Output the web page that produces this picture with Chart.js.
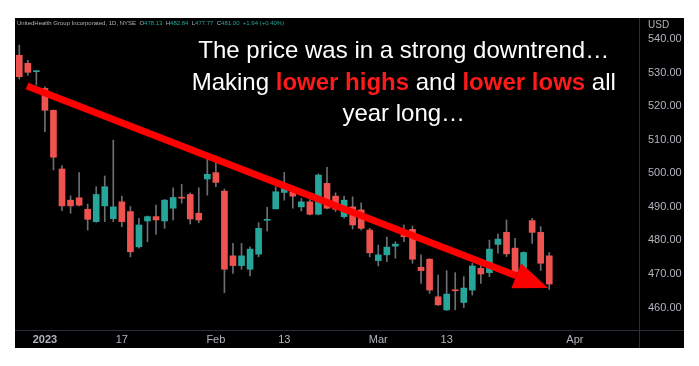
<!DOCTYPE html>
<html lang="en">

<head>
  <script src="https://cdn.jsdelivr.net/npm/chart.js@4.4.0/dist/chart.umd.min.js"></script>
  <title>UNH 1D</title>
  <style>
    body { margin: 0; background: #fff; }
    #wrap { position: absolute; left: 15px; top: 18px; width: 669px; height: 330px; background: #000; }
  </style>
</head>

<body>

  <div id="wrap"><canvas id="myChart"></canvas></div>

  <script>
    // trading days shown on the time axis (last ones are empty space on the right)
    var dates = [
      '2022-12-28', '2022-12-29', '2022-12-30',
      '2023-01-03', '2023-01-04', '2023-01-05', '2023-01-06', '2023-01-09', '2023-01-10', '2023-01-11',
      '2023-01-12', '2023-01-13', '2023-01-17', '2023-01-18', '2023-01-19', '2023-01-20', '2023-01-23',
      '2023-01-24', '2023-01-25', '2023-01-26', '2023-01-27', '2023-01-30', '2023-01-31',
      '2023-02-01', '2023-02-02', '2023-02-03', '2023-02-06', '2023-02-07', '2023-02-08', '2023-02-09',
      '2023-02-10', '2023-02-13', '2023-02-14', '2023-02-15', '2023-02-16', '2023-02-17', '2023-02-21',
      '2023-02-22', '2023-02-23', '2023-02-24', '2023-02-27', '2023-02-28',
      '2023-03-01', '2023-03-02', '2023-03-03', '2023-03-06', '2023-03-07', '2023-03-08', '2023-03-09',
      '2023-03-10', '2023-03-13', '2023-03-14', '2023-03-15', '2023-03-16', '2023-03-17', '2023-03-20',
      '2023-03-21', '2023-03-22', '2023-03-23', '2023-03-24', '2023-03-27', '2023-03-28', '2023-03-29',
      '2023-03-30', '2023-03-31', '2023-04-03', '2023-04-04', '2023-04-05', '2023-04-06', '2023-04-10',
      '2023-04-11', '2023-04-12', '2023-04-13'
    ];

    var opens = [
      535.2, 532.8, 530.3, 525.3, 518.8, 501.3, 492.0, 492.7, 489.3, 485.6,
      490.3, 486.5, 491.5, 488.6, 478.1, 485.8, 487.1, 485.8, 489.6, 492.9,
      493.7, 488.1, 498.3, 500.2, 494.7, 475.4, 472.5, 471.4, 475.9, 486.0,
      489.4, 494.3, 494.5, 490.0, 491.5, 487.8, 497.0, 493.2, 487.1, 490.0,
      489.1, 483.1, 474.0, 475.7, 478.3, 481.6, 483.3, 472.0, 474.4, 463.2,
      459.3, 465.1, 461.5, 465.2, 471.7, 470.4, 478.8, 482.4, 477.7, 470.7,
      485.9, 482.4, 475.4
    ];
    var highs = [
      538.2, 533.7, 530.6, 525.8, 518.9, 502.3, 493.3, 500.2, 490.8, 496.0,
      499.2, 509.9, 493.2, 490.1, 486.6, 487.3, 490.5, 492.2, 495.7, 496.7,
      494.2, 495.7, 504.2, 503.2, 495.3, 479.1, 479.1, 478.1, 485.3, 489.9,
      496.0, 500.3, 496.0, 492.5, 492.2, 499.8, 501.8, 494.2, 493.2, 493.0,
      491.2, 483.6, 478.6, 481.0, 479.6, 484.6, 484.3, 475.7, 474.6, 469.7,
      471.0, 470.4, 469.2, 473.2, 473.2, 480.1, 481.9, 486.1, 480.6, 476.6,
      486.6, 484.1, 476.4
    ];
    var lows = [
      528.1, 529.2, 526.3, 512.4, 501.0, 488.9, 488.1, 490.3, 483.1, 485.4,
      485.6, 485.6, 484.1, 475.1, 477.7, 479.6, 481.9, 483.6, 486.1, 491.1,
      484.9, 485.3, 493.5, 496.0, 464.4, 470.2, 471.4, 469.4, 475.1, 482.8,
      489.4, 492.0, 489.6, 488.8, 487.6, 487.6, 489.4, 488.6, 486.6, 483.4,
      483.1, 475.1, 472.4, 473.7, 474.7, 479.6, 473.2, 467.2, 464.2, 460.6,
      459.1, 459.3, 460.0, 463.7, 467.2, 469.2, 476.2, 475.2, 469.7, 469.2,
      479.1, 471.0, 465.4
    ];
    var closes = [
      528.8, 530.1, 530.5, 518.8, 504.8, 490.3, 490.3, 490.5, 486.3, 493.7,
      496.0, 490.0, 485.6, 476.6, 484.6, 487.1, 486.1, 492.0, 492.8, 492.6,
      486.4, 486.1, 499.7, 497.3, 471.4, 472.5, 475.4, 477.4, 483.6, 486.1,
      494.5, 495.5, 493.2, 491.5, 487.8, 499.5, 489.6, 489.3, 492.0, 484.6,
      483.6, 476.3, 475.7, 478.0, 478.9, 481.1, 474.4, 471.0, 465.2, 460.8,
      464.0, 465.0, 465.8, 472.4, 470.0, 477.4, 480.4, 476.0, 470.7, 476.4,
      482.4, 473.2, 467.0
    ];

    var yTicks = [460, 470, 480, 490, 500, 510, 520, 530, 540];
    var tickDates = ['2023-01-03', '2023-01-17', '2023-02-01', '2023-02-13', '2023-03-01', '2023-03-13', '2023-04-03'];
    var tickTexts = ['2023', '17', 'Feb', '13', 'Mar', '13', 'Apr'];

    // trend arrow: [bar index, price]
    var arrowFrom = [0.9, 526.0];
    var arrowTo = [61.85, 465.8];

    var captionLines = [
      [['The price was in a strong downtrend\u2026', false]],
      [['Making ', false], ['lower highs', true], [' and ', false], ['lower lows', true], [' all', false]],
      [['year long\u2026', false]]
    ];

    var UP = '#26a69a';
    var DOWN = '#ef5350';
    var TEXT = '#b2b5be';
    var FONT = '"Liberation Sans", Arial, sans-serif';

    var bodyColors = opens.map(function(o, i) { return closes[i] >= o ? UP : DOWN; });

    var overlay = {
      id: 'overlay',
      afterDraw: function(chart) {
        var ctx = chart.ctx, a = chart.chartArea, x = chart.scales.x, y = chart.scales.y;
        ctx.save();

        // pane separators
        ctx.strokeStyle = '#2a2e39';
        ctx.lineWidth = 1;
        ctx.beginPath();
        ctx.moveTo(Math.round(a.right) + 0.5, 0);
        ctx.lineTo(Math.round(a.right) + 0.5, chart.height);
        ctx.moveTo(0, Math.round(a.bottom) + 0.5);
        ctx.lineTo(chart.width, Math.round(a.bottom) + 0.5);
        ctx.stroke();

        // header
        ctx.textBaseline = 'middle';
        ctx.textAlign = 'left';
        ctx.font = '6px ' + FONT;
        var hx = 2, hy = 5;
        var parts = [
          ['UnitedHealth Group Incorporated, 1D, NYSE  ', TEXT],
          ['O', TEXT], ['478.13  ', UP], ['H', TEXT], ['482.84  ', UP],
          ['L', TEXT], ['477.77  ', UP], ['C', TEXT], ['481.00  ', UP], ['+1.94 (+0.40%)', UP]
        ];
        parts.forEach(function(p) {
          ctx.fillStyle = p[1];
          ctx.fillText(p[0], hx, hy);
          hx += ctx.measureText(p[0]).width;
        });

        // currency
        ctx.font = '10px ' + FONT;
        ctx.fillStyle = TEXT;
        ctx.fillText('USD', a.right + 9, 7);

        // trend arrow
        var x0 = x.getPixelForValue(arrowFrom[0]), y0 = y.getPixelForValue(arrowFrom[1]);
        var x1 = x.getPixelForValue(arrowTo[0]), y1 = y.getPixelForValue(arrowTo[1]);
        var ang = Math.atan2(y1 - y0, x1 - x0);
        var headLen = 34, headW = 13.5;
        var bx = x1 - headLen * Math.cos(ang), by = y1 - headLen * Math.sin(ang);
        ctx.strokeStyle = '#ff0000';
        ctx.fillStyle = '#ff0000';
        ctx.lineWidth = 7;
        ctx.beginPath();
        ctx.moveTo(x0, y0);
        ctx.lineTo(bx, by);
        ctx.stroke();
        ctx.beginPath();
        ctx.moveTo(x1, y1);
        ctx.lineTo(bx + headW * Math.sin(ang), by - headW * Math.cos(ang));
        ctx.lineTo(bx - headW * Math.sin(ang), by + headW * Math.cos(ang));
        ctx.closePath();
        ctx.fill();

        // caption
        var cx = a.left + a.width * 0.623;
        var lineY = [33, 65, 96];
        captionLines.forEach(function(line, li) {
          var total = 0;
          line.forEach(function(seg) {
            ctx.font = (seg[1] ? 'bold ' : '') + '24px ' + FONT;
            total += ctx.measureText(seg[0]).width;
          });
          var tx = cx - total / 2;
          line.forEach(function(seg) {
            ctx.font = (seg[1] ? 'bold ' : '') + '24px ' + FONT;
            ctx.fillStyle = seg[1] ? '#ff1a1a' : '#ffffff';
            ctx.fillText(seg[0], tx, lineY[li]);
            tx += ctx.measureText(seg[0]).width;
          });
        });

        ctx.restore();
      }
    };

    var data = {
      labels: dates,
      datasets: [{
        label: 'wick',
        data: lows.map(function(l, i) { return [l, highs[i]]; }),
        backgroundColor: '#6b6e75',
        barThickness: 1,
        grouped: false,
        order: 2
      }, {
        label: 'body',
        data: opens.map(function(o, i) { return [o, closes[i]]; }),
        backgroundColor: bodyColors,
        barThickness: 6,
        minBarLength: 1,
        grouped: false,
        order: 1
      }]
    };

    var config = {
      type: 'bar',
      data: data,
      options: {
        responsive: true,
        maintainAspectRatio: false,
        animation: false,
        layout: { padding: 0 },
        plugins: { legend: { display: false }, tooltip: { enabled: false } },
        scales: {
          x: {
            grid: { display: false, drawTicks: false },
            border: { display: false },
            afterFit: function(s) {
              s.height = 18;
              s.paddingLeft = 0;
              s.paddingRight = 0;
            },
            ticks: {
              autoSkip: false,
              maxRotation: 0,
              padding: 3,
              color: TEXT,
              font: function(c) {
                var bold = c.tick && c.tick.label === '2023';
                return { family: FONT, size: 11, weight: bold ? 'bold' : 'normal' };
              },
              callback: function(v, i) {
                var k = tickDates.indexOf(dates[i]);
                return k >= 0 ? tickTexts[k] : null;
              }
            }
          },
          y: {
            position: 'right',
            min: 453.3,
            max: 546.3,
            grid: { display: false, drawTicks: false },
            border: { display: false },
            afterFit: function(s) {
              s.width = 45;
              s.paddingTop = 0;
              s.paddingBottom = 0;
            },
            afterBuildTicks: function(s) {
              s.ticks = yTicks.map(function(v) { return { value: v }; });
            },
            ticks: {
              padding: 9,
              color: TEXT,
              font: { family: FONT, size: 11 },
              callback: function(v) { return v.toFixed(2); }
            }
          }
        }
      },
      plugins: [overlay]
    };

    var myChart = new Chart(document.getElementById('myChart'), config);
  </script>
</body>

</html>
